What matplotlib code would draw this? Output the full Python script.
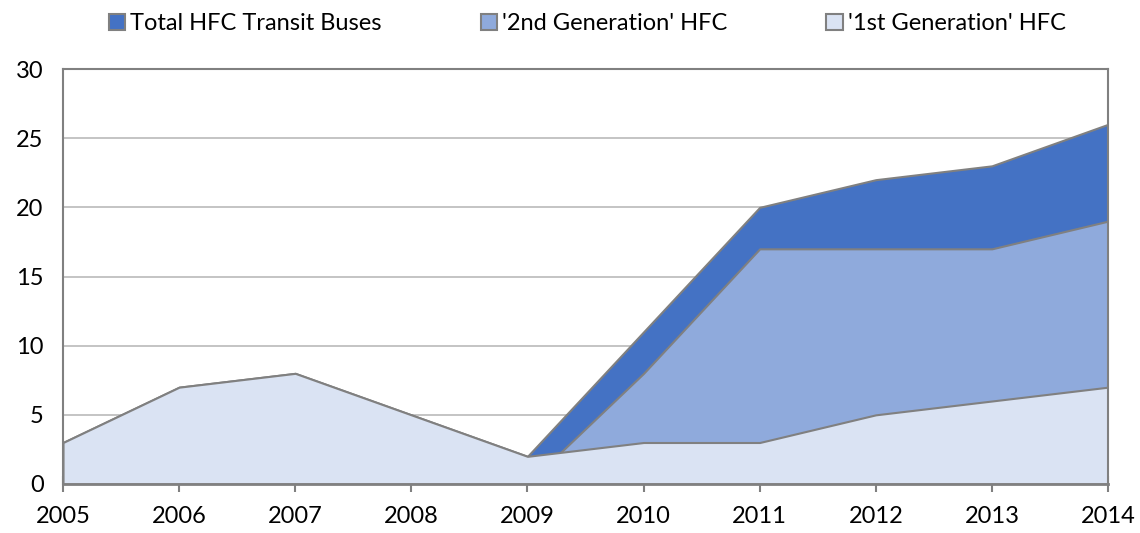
import matplotlib
matplotlib.use("Agg")
import matplotlib.pyplot as plt
from matplotlib.patches import Patch

years = [2005, 2006, 2007, 2008, 2009, 2010, 2011, 2012, 2013, 2014]
total = [3, 7, 8, 5, 2, 11, 20, 22, 23, 26]
second_gen = [0, 0, 0, 0, 0, 8, 17, 17, 17, 19]
first_gen = [3, 7, 8, 5, 2, 3, 3, 5, 6, 7]
labels = ["Total HFC Transit Buses", "'2nd Generation' HFC", "'1st Generation' HFC"]
colors = ["#4472C4", "#8FAADC", "#DAE3F3"]
edge = "#808080"

plt.rcParams['font.family'] = ['Lato', 'DejaVu Sans']
fig = plt.figure(figsize=(11.4, 5.33), dpi=100)
ax = fig.add_axes([63/1140, 1-484/533, (1108-63)/1140, (484-69)/533])

for series, c in zip([total, second_gen, first_gen], colors):
    ax.fill_between(years, 0, series, facecolor=c, edgecolor=edge, linewidth=1.5, zorder=2)

ax.set_xlim(2005, 2014)
ax.set_ylim(0, 30)
ax.set_yticks(range(0, 31, 5))
ax.set_xticks(years)
ax.grid(axis='y', color='#BFBFBF', linewidth=1.3, zorder=0)
ax.set_axisbelow(True)
for s in ax.spines.values():
    s.set_color(edge)
    s.set_linewidth(1.5)
ax.spines['bottom'].set_linewidth(2)
ax.spines['bottom'].set_zorder(5)
ax.tick_params(axis='y', length=0, labelsize=17, pad=14, labelcolor='black')
ax.tick_params(axis='x', direction='inout', length=12, color=edge, width=1.5, labelsize=17, pad=10, labelcolor='black')

handles = [Patch(facecolor=c, edgecolor=edge, linewidth=1.5) for c in colors]
fig.legend(handles, labels, loc='upper center', bbox_to_anchor=(0.515, 1.015), ncol=3,
           frameon=False, fontsize=17, handlelength=0.7, handleheight=0.7,
           handletextpad=0.2, columnspacing=4.2)

fig.savefig("out.png", dpi=100)
